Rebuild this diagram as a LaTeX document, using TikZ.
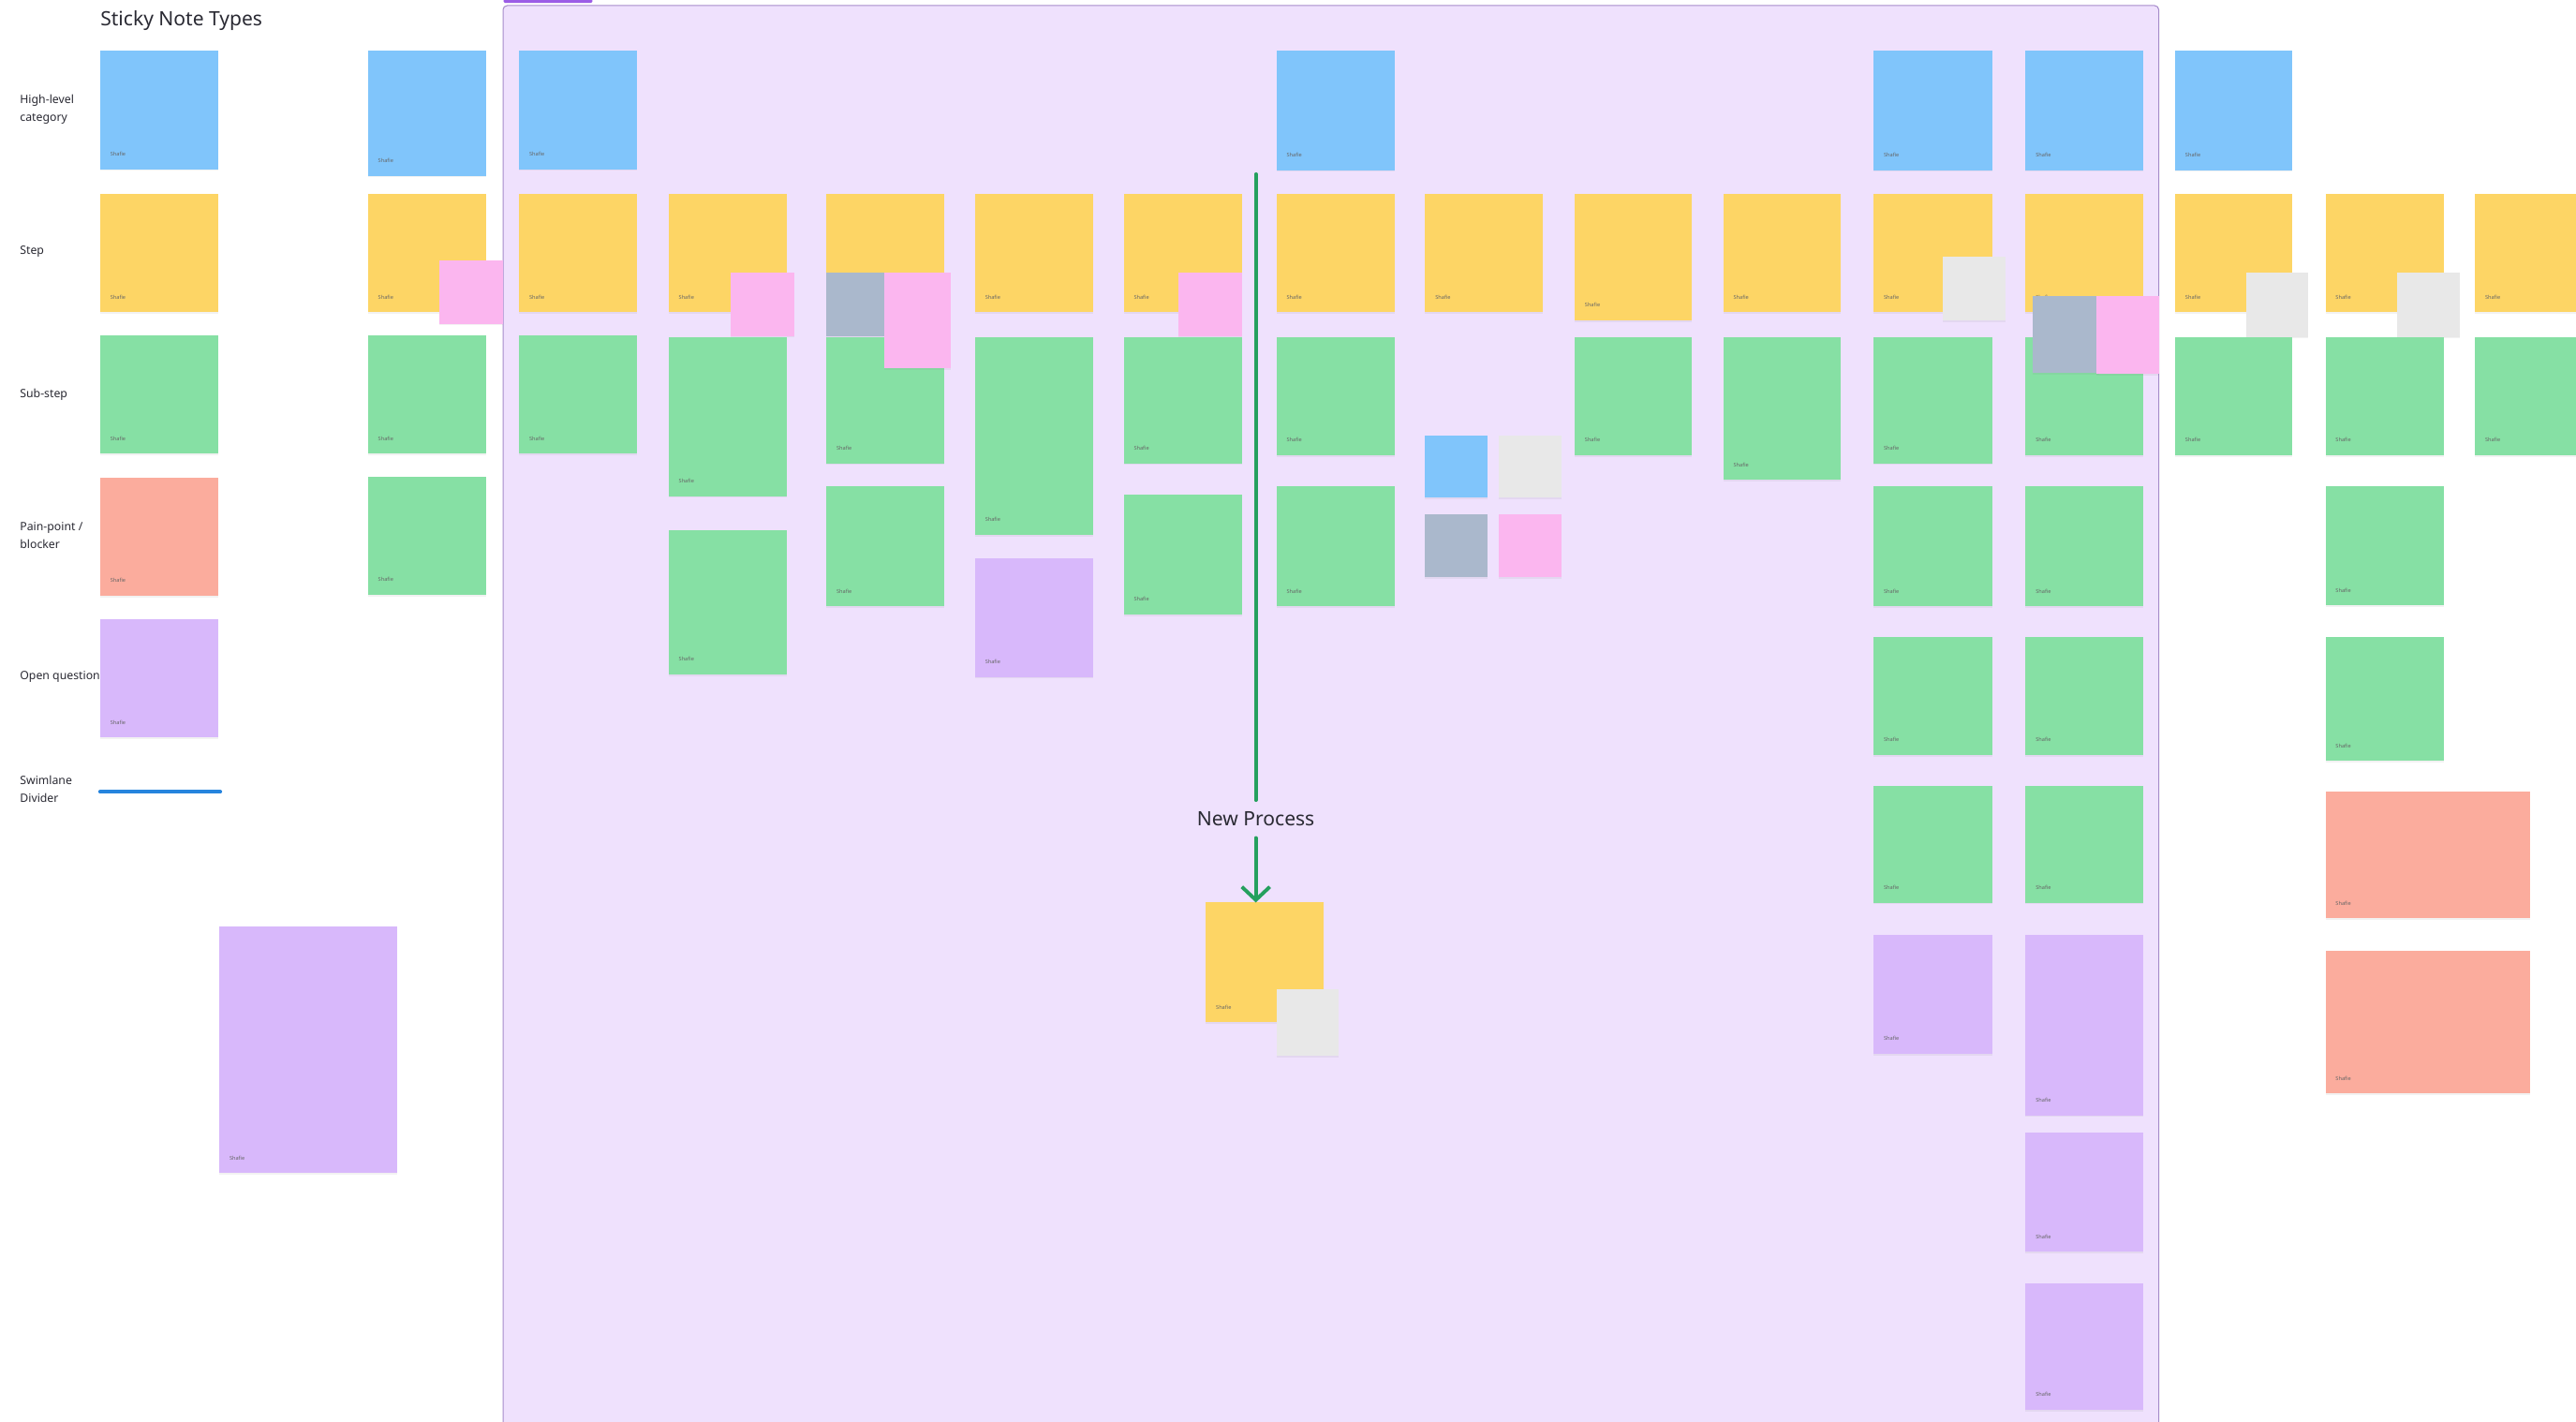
\documentclass[tikz,border=0pt]{standalone}
\usepackage{fontspec}
\setmainfont{Noto Sans}
\usetikzlibrary{arrows.meta,shadows}
\definecolor{nblue}{HTML}{80C5FB}
\definecolor{nyellow}{HTML}{FDD565}
\definecolor{ngreen}{HTML}{86E0A4}
\definecolor{nred}{HTML}{FBAC9D}
\definecolor{npurple}{HTML}{D8B8FB}
\definecolor{npink}{HTML}{FBB6EF}
\definecolor{ngray}{HTML}{E8E8E8}
\definecolor{nslate}{HTML}{AAB8CC}
\definecolor{framefill}{HTML}{EFE1FD}
\definecolor{frameline}{HTML}{A68CCB}
\definecolor{tabcol}{HTML}{9C5DE6}
\definecolor{flowgreen}{HTML}{25A05E}
\definecolor{lanecol}{HTML}{2684DD}
\definecolor{inkcol}{HTML}{2A2A33}
\tikzset{
  sticky/.style={rectangle, inner sep=0pt, outer sep=0pt, anchor=north west,
    drop shadow={opacity=0.10, shadow xshift=0pt, shadow yshift=-1pt}},
  author/.style={anchor=base west, inner sep=0pt, font=\fontsize{3.2}{4}\selectfont, text=black!60},
  legendlabel/.style={anchor=west, align=left, inner sep=0pt, font=\fontsize{7}{11}\selectfont, text=inkcol},
  flowline/.style={flowgreen, line width=2.2pt, line cap=round},
}
\newcommand{\snote}[6]{%
  \node[sticky, fill=#2, minimum width=#5pt, minimum height=#6pt] (#1) at (#3,#4) {};
  \node[author] (#1a) at ([xshift=6pt,yshift=8pt]#1.south west) {Shafie};}
\newcommand{\mininote}[6]{%
  \node[sticky, fill=#2, minimum width=#5pt, minimum height=#6pt] (#1) at (#3,#4) {};}
\begin{document}
\begin{tikzpicture}[x=1pt,y=-1pt]
\useasboundingbox (0,0) rectangle (1568,865);
\clip (0,0) rectangle (1568,865);
\fill[white] (0,0) rectangle (1568,865);

% legend
\node[anchor=west, inner sep=0pt, font=\fontsize{12}{14}\selectfont, text=inkcol] (title) at (61,12.5) {Sticky Note Types};
\node[legendlabel] (lab1) at (12,66.5) {High-level\\category};
\node[legendlabel] (lab2) at (12,153) {Step};
\node[legendlabel] (lab3) at (12,240) {Sub-step};
\node[legendlabel] (lab4) at (12,326) {Pain-point /\\blocker};
\node[legendlabel] (lab5) at (12,412) {Open question};
\node[legendlabel] (lab6) at (12,480.5) {Swimlane\\Divider};
\snote{L1}{nblue}{61}{31}{72}{72}
\snote{L2}{nyellow}{61}{118}{72}{72}
\snote{L3}{ngreen}{61}{204}{72}{72}
\snote{L4}{nred}{61}{291}{72}{71.5}
\snote{L5}{npurple}{61}{377}{72}{72}
\coordinate (laneA) at (61,482);
\coordinate (laneB) at (134,482);
\draw[lanecol, line width=2.4pt, line cap=round] (laneA) -- (laneB);

% frame
\draw[fill=framefill, draw=frameline, line width=0.6pt, rounded corners=2.5pt] (306.2,3.4) rectangle (1314,880);
\fill[tabcol, rounded corners=0.8pt] (306.5,-3) rectangle (360.5,1.8);

% column A (outside frame)
\snote{a1}{nblue}{224}{31}{72}{76}
\snote{a2}{nyellow}{224}{118}{72}{72}
\snote{a3}{ngreen}{224}{204}{72}{72}
\snote{a4}{ngreen}{224}{290.5}{72}{71.5}
\mininote{a2s}{npink}{267.5}{158.5}{38.5}{38.5}
\snote{bigq}{npurple}{133.5}{564}{108}{150}

% column 1
\snote{b1}{nblue}{316}{31}{72}{72}
\snote{y1}{nyellow}{316}{118}{72}{72}
\snote{g1}{ngreen}{316}{204}{72}{72}
% column 2
\snote{y2}{nyellow}{407}{118}{72}{72}
\snote{g2a}{ngreen}{407}{205}{72}{97}
\snote{g2b}{ngreen}{407}{322.5}{72}{88}
\mininote{p2}{npink}{445}{166}{38.5}{38.5}
% column 3
\snote{y3}{nyellow}{503}{118}{72}{72}
\snote{g3a}{ngreen}{503}{205}{72}{77}
\snote{g3b}{ngreen}{503}{296}{72}{73}
\mininote{s3}{nslate}{503}{166}{35.5}{38.5}
\mininote{p3}{npink}{538.5}{166}{40}{58}
% column 4
\snote{y4}{nyellow}{593.5}{118}{72}{72}
\snote{g4}{ngreen}{593.5}{205}{72}{120.5}
\snote{q4}{npurple}{593.5}{340}{72}{72}
% column 5
\snote{y5}{nyellow}{684}{118}{72}{72}
\snote{g5a}{ngreen}{684}{205}{72}{77}
\snote{g5b}{ngreen}{684}{301}{72}{73}
\mininote{p5}{npink}{717.5}{166}{38.5}{38.5}
% column 6
\snote{b6}{nblue}{777}{31}{72}{72.5}
\snote{y6}{nyellow}{777}{118}{72}{72}
\snote{g6a}{ngreen}{777}{205}{72}{72}
\snote{g6b}{ngreen}{777}{296}{72}{73}
% column 7
\snote{y7}{nyellow}{867.5}{118}{71.5}{72}
\mininote{s7a}{nblue}{867.5}{265}{38}{38}
\mininote{s7b}{ngray}{912.5}{265}{38}{38}
\mininote{s7c}{nslate}{867.5}{313}{38}{38.5}
\mininote{s7d}{npink}{912.5}{313}{38}{38.5}
% column 8
\snote{y8}{nyellow}{958.5}{118}{71.5}{77}
\snote{g8}{ngreen}{958.5}{205}{71.5}{72}
% column 9
\snote{y9}{nyellow}{1049}{118}{71.5}{72}
\snote{g9}{ngreen}{1049}{205}{71.5}{87}
% column 10
\snote{b10}{nblue}{1140.5}{31}{72}{72.5}
\snote{y10}{nyellow}{1140.5}{118}{72}{72}
\mininote{s10}{ngray}{1182.5}{156.5}{38}{38.5}
\snote{g10a}{ngreen}{1140.5}{205}{72}{77}
\snote{g10b}{ngreen}{1140.5}{296}{72}{73}
\snote{g10c}{ngreen}{1140.5}{388}{72}{71.5}
\snote{g10d}{ngreen}{1140.5}{478.5}{72}{71}
\snote{q10}{npurple}{1140.5}{569.3}{72}{72}
% column 11
\snote{b11}{nblue}{1233}{31}{71.5}{72.5}
\snote{y11}{nyellow}{1233}{118}{71.5}{72}
\snote{g11a}{ngreen}{1233}{205}{71.5}{72}
\mininote{s11}{nslate}{1237.5}{180}{40}{47}
\mininote{p11}{npink}{1276}{180}{38}{47.5}
\snote{g11b}{ngreen}{1233}{296}{71.5}{73}
\snote{g11c}{ngreen}{1233}{388}{71.5}{71.5}
\snote{g11d}{ngreen}{1233}{478.5}{71.5}{71}
\snote{q11a}{npurple}{1233}{569.3}{71.5}{109.5}
\snote{q11b}{npurple}{1233}{689.5}{71.5}{72.5}
\snote{q11c}{npurple}{1233}{781}{71.5}{77}
% column 12
\snote{b12}{nblue}{1324}{31}{71.5}{72.5}
\snote{y12}{nyellow}{1324}{118}{71.5}{72}
\mininote{s12}{ngray}{1367}{166}{38}{39}
\snote{g12}{ngreen}{1324}{205}{71.5}{72}
% column 13
\snote{y13}{nyellow}{1415.5}{118}{72}{72}
\mininote{s13}{ngray}{1459}{166}{38}{39}
\snote{g13a}{ngreen}{1415.5}{205}{72}{72}
\snote{g13b}{ngreen}{1415.5}{296}{72}{72.5}
\snote{g13c}{ngreen}{1415.5}{388}{72}{75}
\snote{r13a}{nred}{1415.5}{482}{124.5}{77}
\snote{r13b}{nred}{1415.5}{578.5}{124.5}{87}
% column 14
\snote{y14}{nyellow}{1506.5}{118}{72}{72}
\snote{g14}{ngreen}{1506.5}{205}{72}{72}

% new process
\snote{yn}{nyellow}{734}{549.3}{71.5}{73}
\mininote{sn}{ngray}{777}{602}{38}{40.5}
\coordinate (npstart) at (764.4,106);
\node[font=\fontsize{12}{14}\selectfont, text=inkcol, text height=8.6pt, text depth=0pt, inner xsep=0pt, inner ysep=7pt] (np) at (764.4,498.5) {New Process};
\draw[flowline] (npstart) -- (np.north);
\draw[flowline, -{Straight Barb[length=8pt,width=17pt]}] (np.south) -- (np.south |- yn.north);
\end{tikzpicture}
\end{document}
